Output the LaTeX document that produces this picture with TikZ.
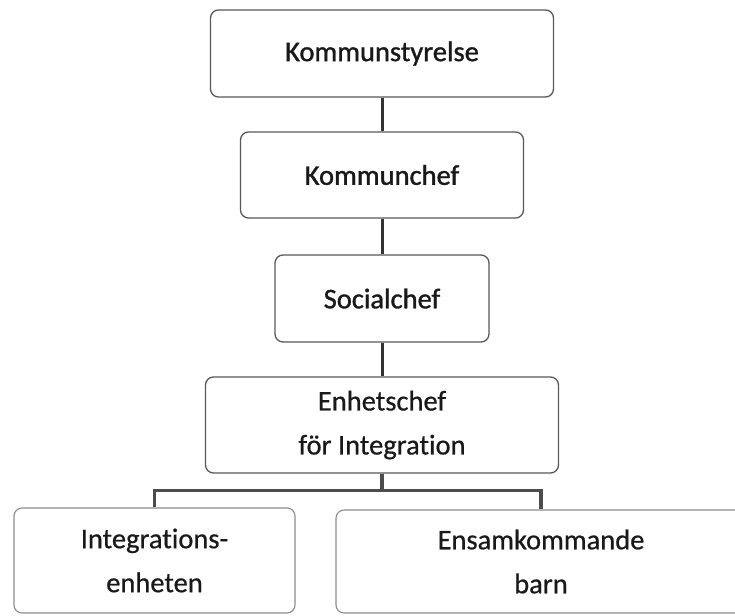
\documentclass[tikz,border=0pt]{standalone}
\usepackage{fontspec}
\setmainfont{Carlito}[Ligatures=NoCommon]
\newfontfamily\heavyfont{Carlito}[Ligatures=NoCommon,FakeBold=1.2]
\newfontfamily\medfont{Carlito}[Ligatures=NoCommon,FakeBold=0.6]
\begin{document}
\begin{tikzpicture}[x=1pt,y=-1pt,
  orgbox/.style={draw=black!65, line width=1.3pt, rounded corners=8pt, fill=white,
    inner sep=0pt, align=center, text=black!90,
    font=\heavyfont\fontsize{28.5}{44}\selectfont},
  midbox/.style={orgbox, font=\medfont\fontsize{28.5}{44}\selectfont},
  lowbox/.style={orgbox, draw=black!45, line width=1.1pt,
    font=\medfont\fontsize{28.5}{44}\selectfont},
  conn/.style={draw=black!80, line width=3pt},
  bus/.style={draw=black!70, line width=3.5pt}]
\useasboundingbox (0,0) rectangle (735,615);
\clip (0,0) rectangle (735,615);
\fill[white] (0,0) rectangle (735,615);
\node[orgbox, minimum width=343pt, minimum height=87pt] (k1) at (382,53.5) {Kommunstyrelse};
\node[orgbox, minimum width=283pt, minimum height=86pt] (k2) at (382,175) {Kommunchef};
\node[orgbox, minimum width=214pt, minimum height=87pt] (k3) at (382,298.5) {Socialchef};
\node[midbox, minimum width=353pt, minimum height=96pt] (k4) at (382,425) {Enhetschef\\för Integration};
\node[lowbox, minimum width=281pt, minimum height=105pt] (k5) at (154.5,560.5) {Integrations-\\enheten};
\node[lowbox, minimum width=410pt, minimum height=103pt] (k6) at (541,561.5) {Ensamkommande\\barn};
\draw[conn] (k1) -- (k2);
\draw[conn] (k2) -- (k3);
\draw[conn] (k3) -- (k4);
\draw[bus] (k4.south) -- ++(0,17) -| (k5.north);
\draw[bus] (k4.south) -- ++(0,17) -| (k6.north);
\end{tikzpicture}
\end{document}
